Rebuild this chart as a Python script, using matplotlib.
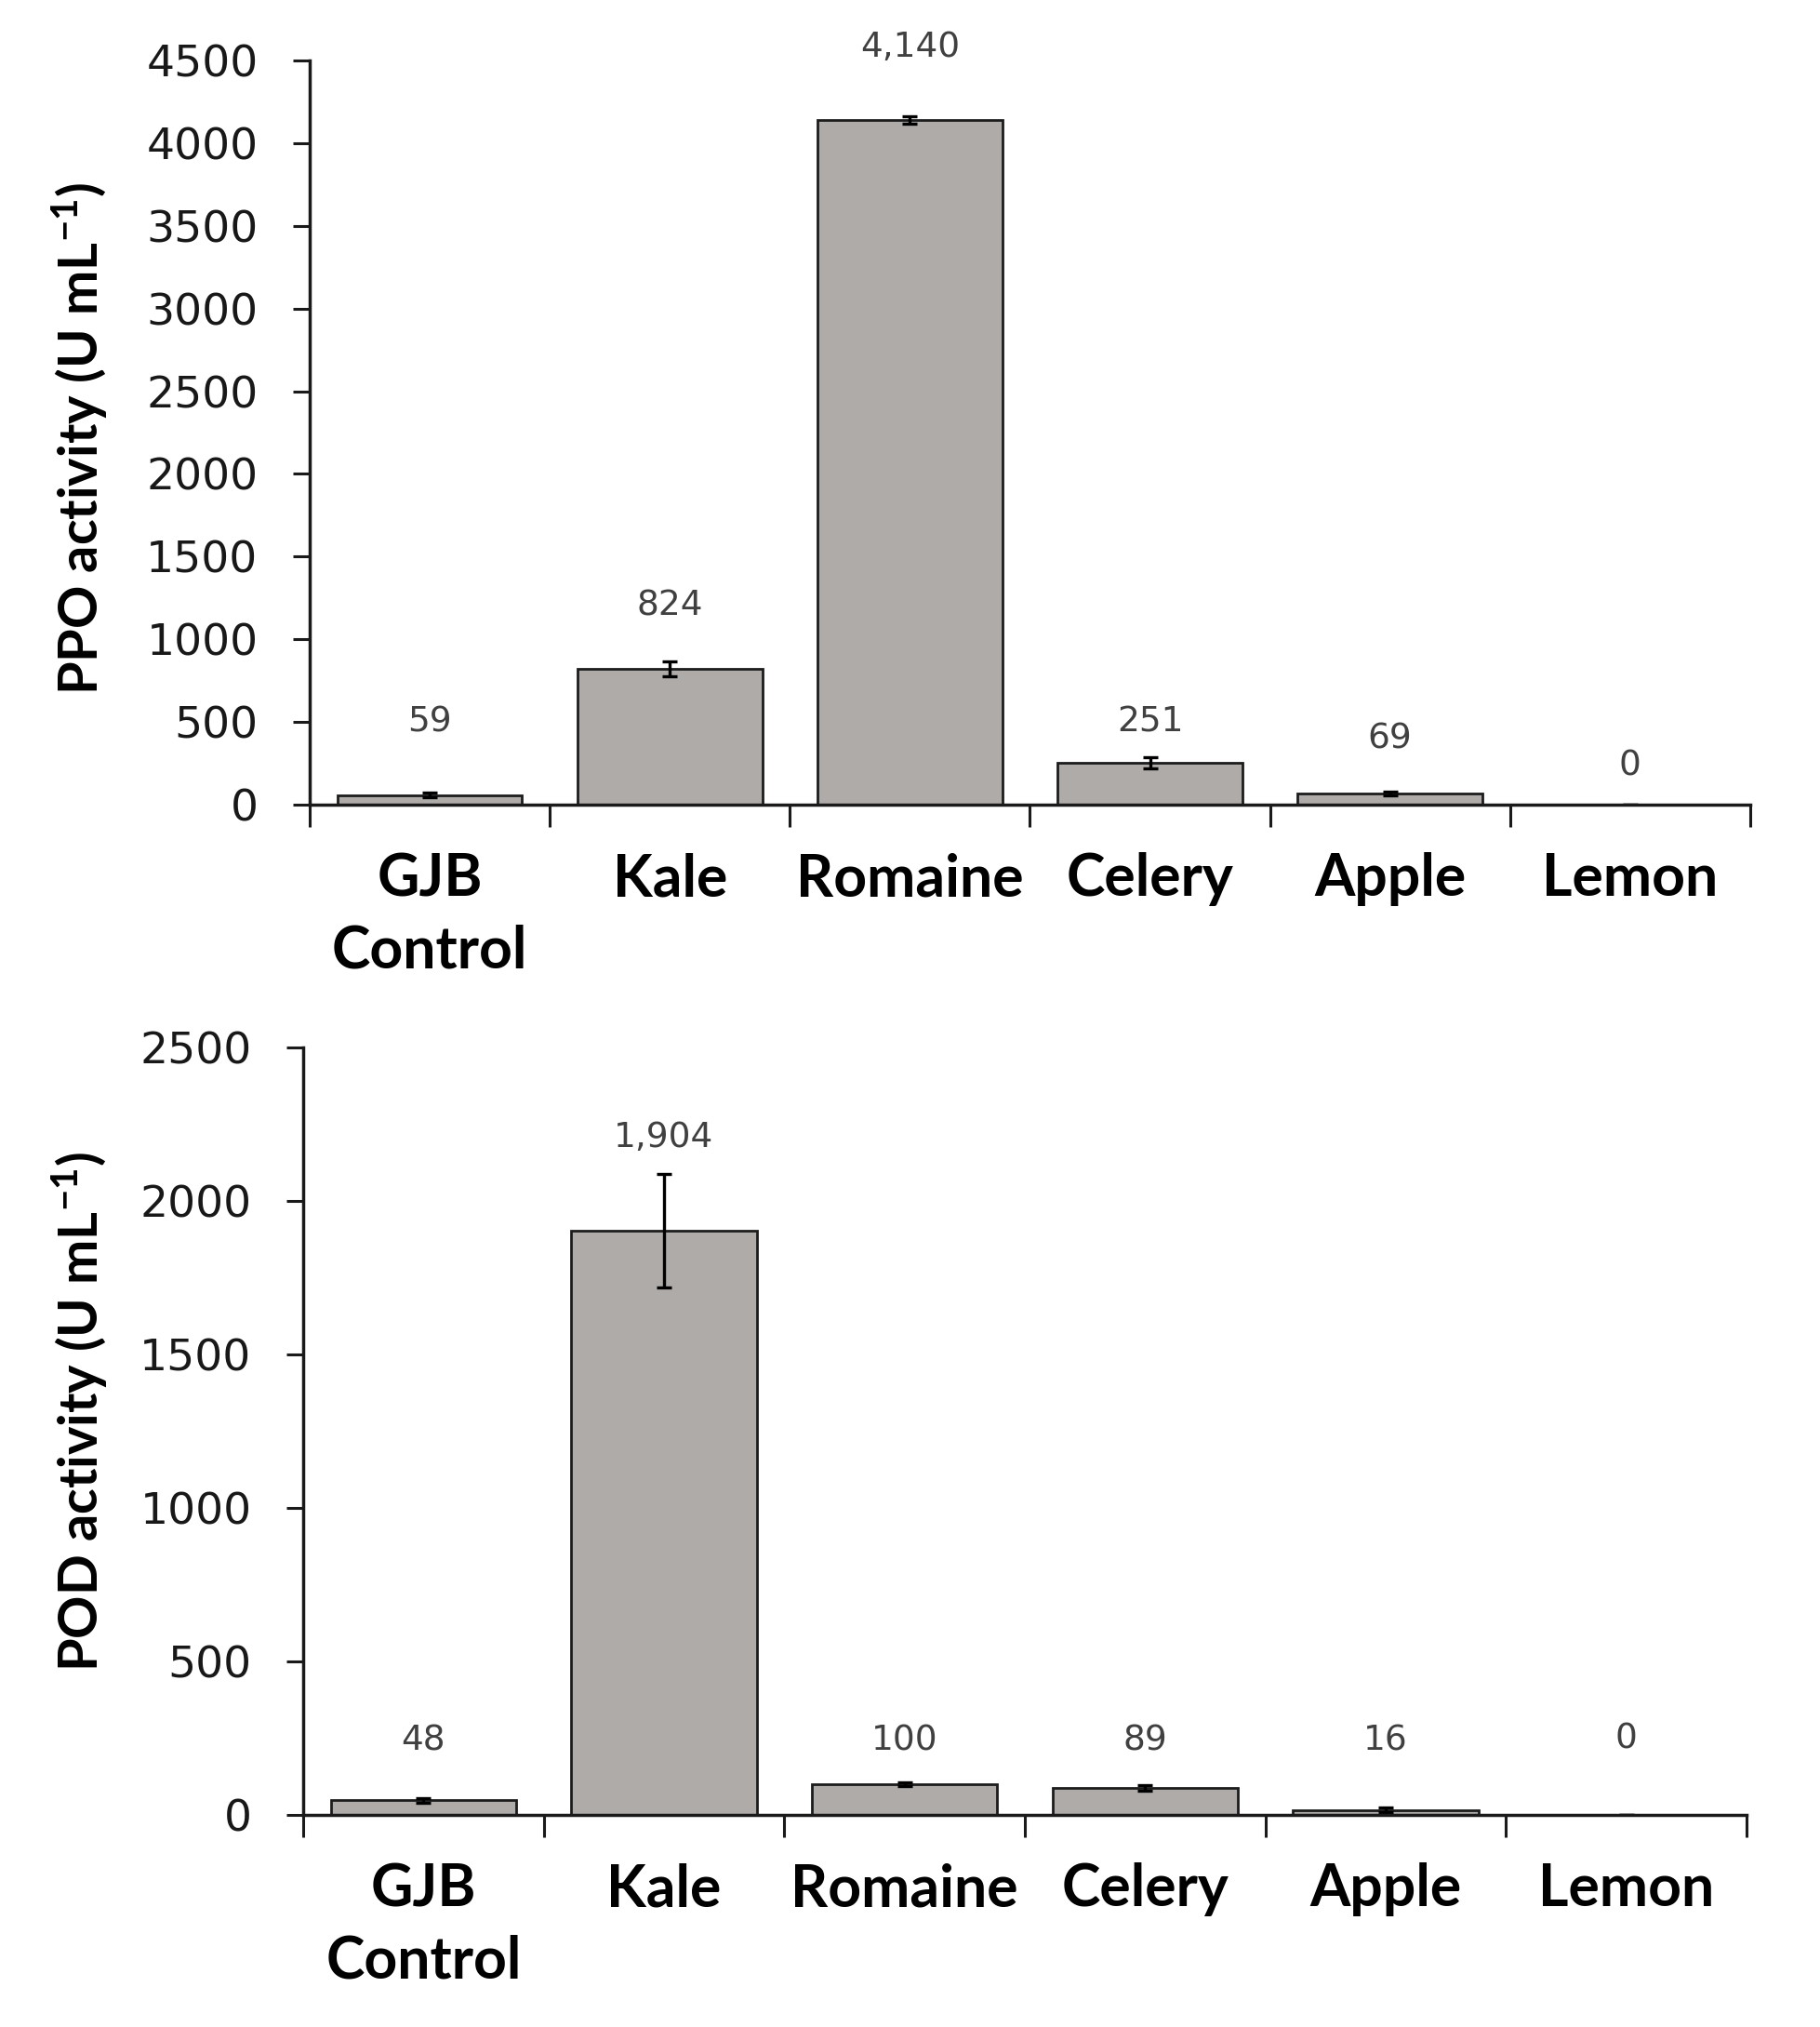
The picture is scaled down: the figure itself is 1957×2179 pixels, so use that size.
import matplotlib
matplotlib.use("Agg")
import matplotlib.pyplot as plt
import numpy as np

# ---------------- data ----------------
categories = ["GJB\nControl", "Kale", "Romaine", "Celery", "Apple", "Lemon"]

ppo_values = [59, 824, 4140, 251, 69, 0]
ppo_errors = [12, 45, 25, 34, 10, 0]
ppo_labels = ["59", "824", "4,140", "251", "69", "0"]
ppo_label_y = [500, 1203, 4578, 500, 398, 234]

pod_values = [48, 1904, 100, 89, 16, 0]
pod_errors = [8, 185, 6, 9, 8, 0]
pod_labels = ["48", "1,904", "100", "89", "16", "0"]
pod_label_y = [240, 2206, 240, 240, 240, 248]

ppo_yticks = list(range(0, 4501, 500))
pod_yticks = list(range(0, 2501, 500))

# ---------------- style ----------------
plt.rcParams["mathtext.fontset"] = "custom"
plt.rcParams["mathtext.rm"] = "Lato:bold"
plt.rcParams["mathtext.bf"] = "Lato:bold"
plt.rcParams["mathtext.it"] = "Lato:bold:italic"
plt.rcParams["mathtext.default"] = "rm"

W, H = 1958, 2179
fig = plt.figure(figsize=(W / 100, H / 100), dpi=100)

BAR_FILL = "#AEABA9"
BAR_EDGE = "#1c1c1c"
AX_COLOR = "#1a1a1a"


def draw(ax, values, errors, labels, label_y, yticks, ymax):
    x = np.arange(len(categories))
    ax.bar(x, values, width=0.77, color=BAR_FILL, edgecolor=BAR_EDGE,
           linewidth=2.0, zorder=2)
    ax.errorbar(x, values, yerr=errors, fmt="none", ecolor="black",
                elinewidth=2.4, capsize=6, capthick=2.4, zorder=3)
    for xi, lab, ly in zip(x, labels, label_y):
        ax.text(xi, ly, lab, ha="center", va="center", fontsize=27,
                family="DejaVu Sans", color="#404040")
    ax.set_xlim(-0.5, len(categories) - 0.5)
    ax.set_ylim(0, ymax)
    for s in ("top", "right"):
        ax.spines[s].set_visible(False)
    for s in ("left", "bottom"):
        ax.spines[s].set_linewidth(2.5)
        ax.spines[s].set_color(AX_COLOR)
    ax.spines["bottom"].set_zorder(4)
    ax.set_yticks(yticks)
    ax.set_yticklabels([str(t) for t in yticks], family="DejaVu Sans",
                       fontsize=34, color="#181818")
    ax.tick_params(axis="y", direction="out", length=13, width=2.2,
                   color=AX_COLOR, pad=27)
    ax.set_xticks(np.arange(-0.5, len(categories), 1.0))
    ax.set_xticklabels([""] * (len(categories) + 1))
    ax.tick_params(axis="x", which="major", direction="out", length=17,
                   width=2.2, color=AX_COLOR)
    ax.set_xticks(x, minor=True)
    ax.set_xticklabels(categories, minor=True, family="Lato",
                       fontweight="bold", fontsize=45, color="black")
    for lbl in ax.get_xticklabels(minor=True):
        lbl.set_linespacing(1.4)
    ax.tick_params(axis="x", which="minor", length=0, pad=37)


ax1 = fig.add_axes([333 / W, 1 - 865 / H, (1882 - 333) / W, 800 / H])
draw(ax1, ppo_values, ppo_errors, ppo_labels, ppo_label_y, ppo_yticks, 4500)

ax2 = fig.add_axes([326 / W, 1 - 1951 / H, (1878 - 326) / W, 825 / H])
draw(ax2, pod_values, pod_errors, pod_labels, pod_label_y, pod_yticks, 2500)

fig.text(86 / W, 1 - 471 / H, r"PPO activity (U mL$^{-1}$)", rotation=90,
         ha="center", va="center", family="Lato", fontweight="bold",
         fontsize=41.5, color="black")
fig.text(86 / W, 1 - 1517 / H, r"POD activity (U mL$^{-1}$)", rotation=90,
         ha="center", va="center", family="Lato", fontweight="bold",
         fontsize=41.5, color="black")

fig.savefig("out.png", dpi=100, facecolor="white")
